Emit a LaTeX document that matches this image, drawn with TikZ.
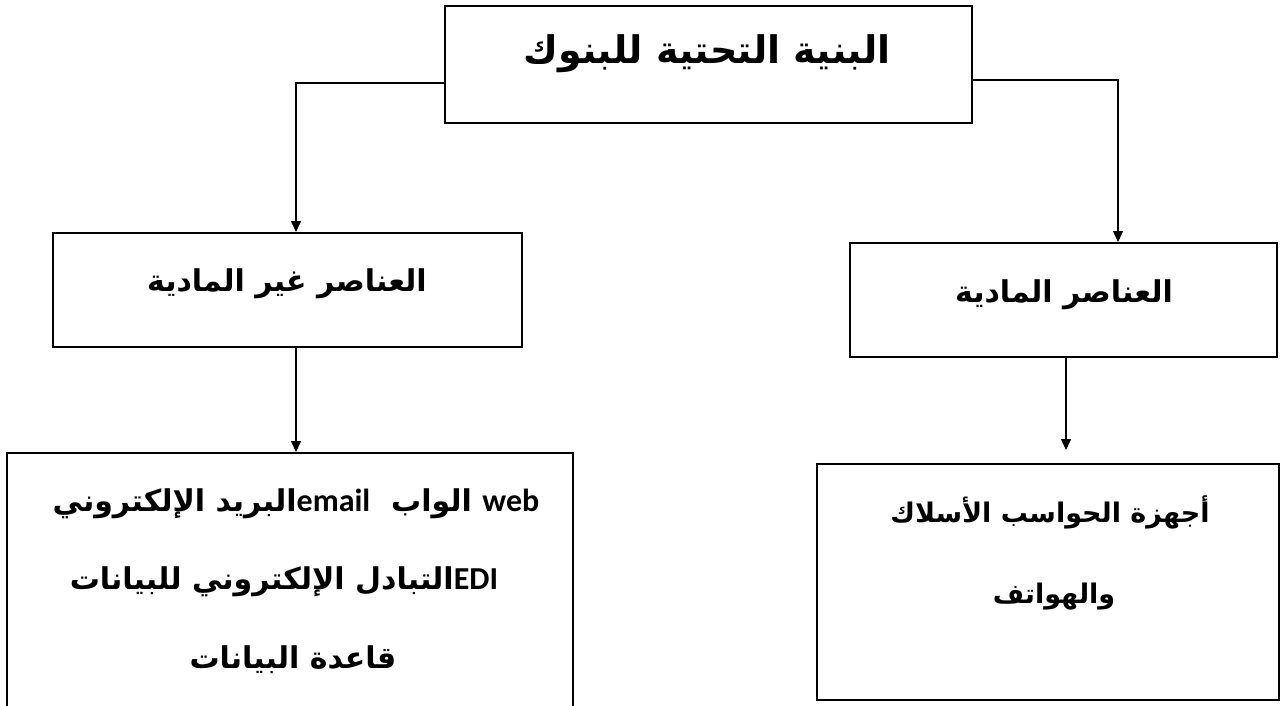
\documentclass[tikz,border=0pt]{standalone}
\usepackage{fontspec}
\TeXXeTstate=1
\newfontfamily\arabicfont[Script=Arabic]{DejaVu Sans}
\newfontfamily\latinfont{Carlito}
\usetikzlibrary{arrows.meta}
\begin{document}
\begin{tikzpicture}[x=0.5pt,y=-0.5pt,
  box/.style={draw=black,line width=1.2pt,rectangle,inner sep=0pt,anchor=north west},
  lbl/.style={inner sep=0pt,font=\arabicfont\bfseries\fontsize{15}{18}\selectfont},
  big/.style={font=\arabicfont\bfseries\fontsize{19}{22}\selectfont},
  small/.style={font=\arabicfont\bfseries\fontsize{13.5}{16}\selectfont},
  conn/.style={line width=0.8pt,draw=black},
  arr/.style={conn,-{Triangle[length=5.5pt,width=5pt]}}]
\useasboundingbox[fill=white] (0,0) rectangle (1280,706);
% boxes
\node[box,minimum width=263.5pt,minimum height=58.5pt] (top) at (444,5) {};
\node[box,minimum width=234.5pt,minimum height=57pt] (lm) at (52,232) {};
\node[box,minimum width=213.5pt,minimum height=57pt] (rm) at (849,242) {};
\node[box,minimum width=283pt,minimum height=135pt] (lb) at (6,452) {};
\node[box,minimum width=231pt,minimum height=118pt] (rb) at (816,463) {};
% texts
\node[lbl,big] (topt) at (707,54) {\beginR البنية التحتية للبنوك\endR};
\node[lbl] (lmt) at (287,284) {\beginR العناصر غير المادية\endR};
\node[lbl] (rmt) at (1064,295) {\beginR العناصر المادية\endR};
\node[lbl] (lbt1) at (296,504) {\beginR\beginL{\latinfont\fontsize{16}{18}\selectfont web}\endL{} الواب \ \beginL{\latinfont\fontsize{16}{18}\selectfont email}\endL{}البريد الإلكتروني\endR};
\node[lbl] (lbt2) at (284,582) {\beginR\beginL{\latinfont\fontsize{16}{18}\selectfont EDI}\endL{}التبادل الإلكتروني للبيانات\endR};
\node[lbl] (lbt3) at (293,660) {\beginR قاعدة البيانات\endR};
\node[lbl,small] (rbt1) at (1050,512) {\beginR أجهزة الحواسب الأسلاك\endR};
\node[lbl,small] (rbt2) at (1054,597) {\beginR والهواتف\endR};
% connectors
\coordinate (jl) at (296,83);
\coordinate (jr) at (1118,80);
\draw[arr] (top.west |- jl) -- (jl) -- (jl |- lm.north);
\draw[arr] (top.east |- jr) -- (jr) -- (jr |- rm.north);
\draw[arr] (jl |- lm.south) -- (jl |- lb.north);
\coordinate (er) at (1066,450);
\draw[arr] (er |- rm.south) -- (er);
\end{tikzpicture}
\end{document}
